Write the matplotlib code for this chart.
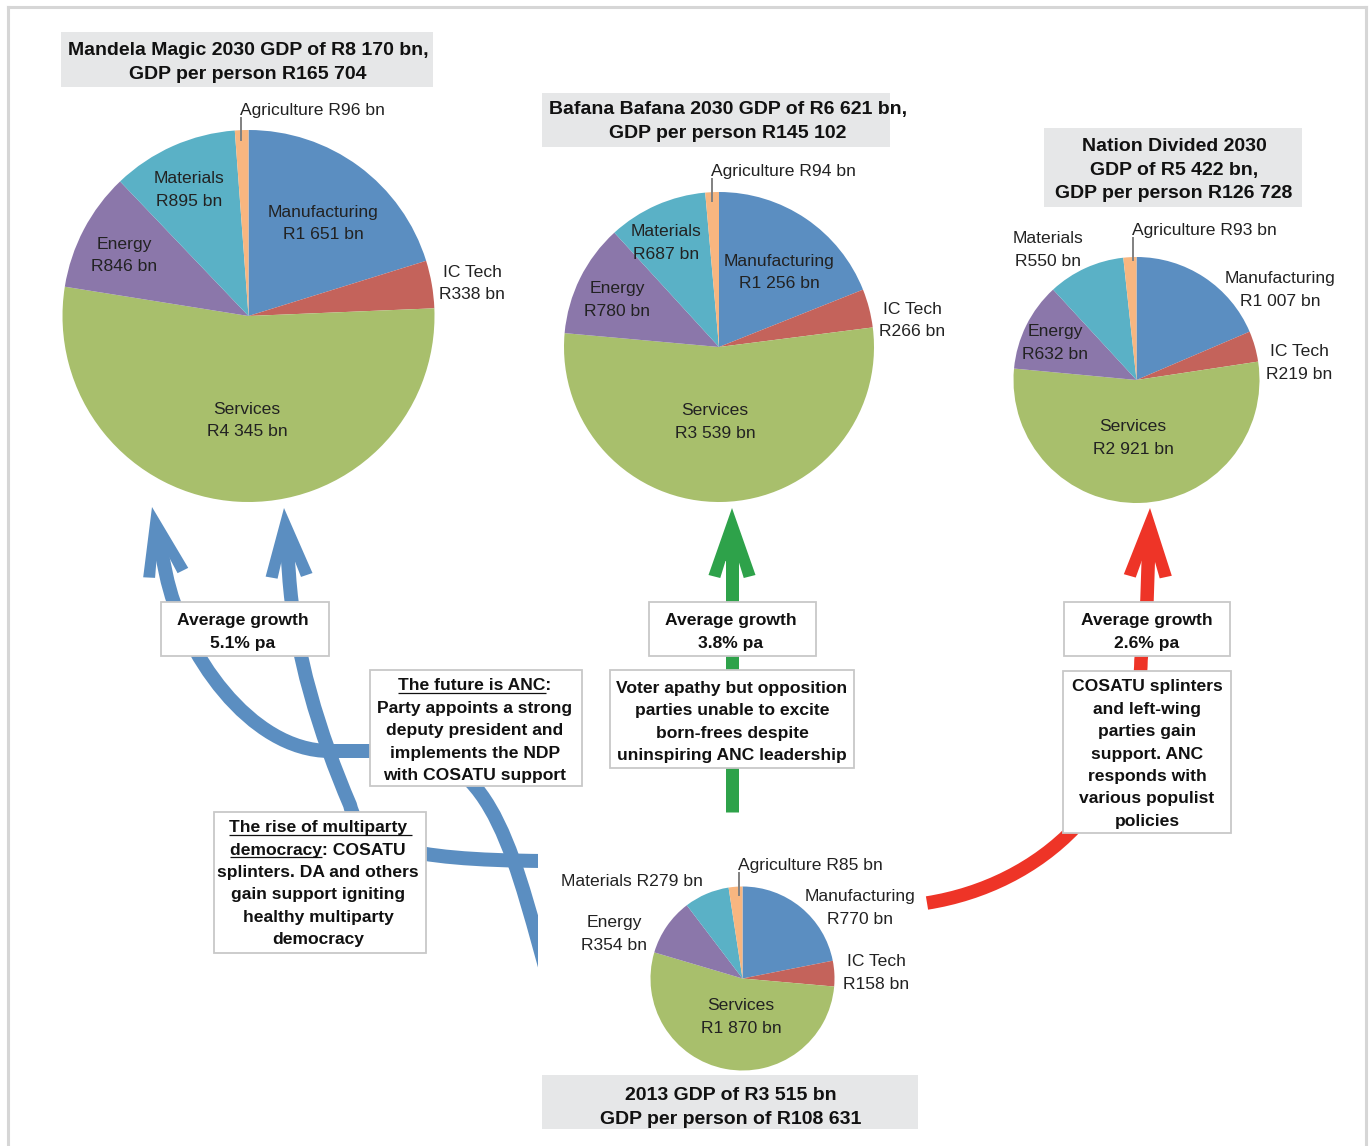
import numpy as np
import matplotlib.pyplot as plt
from matplotlib.path import Path
from matplotlib.patches import PathPatch, Polygon, Rectangle

plt.rcParams['font.family'] = ['Liberation Sans', 'DejaVu Sans']

# --- data -------------------------------------------------------------
sectors = ['Manufacturing', 'IC Tech', 'Services', 'Energy', 'Materials', 'Agriculture']
colors = ['#5b8ec1', '#c4635b', '#a8bf6c', '#8b77aa', '#5ab1c6', '#f8b680']

gdp_2013 = [770, 158, 1870, 354, 279, 85]
gdp_mandela = [1651, 338, 4345, 846, 895, 96]
gdp_bafana = [1256, 266, 3539, 780, 687, 94]
gdp_divided = [1007, 219, 2921, 632, 550, 93]

total_2013 = 3515
per_person_2013 = 108631
scenarios = ['Mandela Magic', 'Bafana Bafana', 'Nation Divided']
total_2030 = [8170, 6621, 5422]
per_person_2030 = [165704, 145102, 126728]
growth = [5.1, 3.8, 2.6]

# label positions (image pixels) for each sector, per pie
lab_mandela = [(323, 221.5), (472, 281.5), (247, 418.5), (124, 253.5), (189, 188), (240, 109)]
lab_bafana = [(779, 270.5), (912, 318.5), (715, 420), (617, 298), (666, 241), (711, 170)]
lab_divided = [(1280, 288), (1299, 361), (1133, 436), (1055, 341), (1048, 248), (1132, 229)]
lab_2013 = [(860, 906), (876, 971), (741, 1015), (614, 932), (632, 880), (738, 864)]

W, H = 1370, 1146
fig = plt.figure(figsize=(W / 100, H / 100), dpi=100)
ax = fig.add_axes([0, 0, 1, 1])

LAB = 12.6   # pt, sector labels
TXT = 12.6   # pt, bold box text
TTL = 14     # pt, bold titles


def rand(v):
    return 'R' + f'{v:,}'.replace(',', ' ')


def put_lines(x, y0, lines, size, bold=False, dy=22.5, color='#111111', ha='center'):
    out = []
    for i, s in enumerate(lines):
        t = ax.text(x, y0 + i * dy + size * 100 / 72 * 0.36, s, ha=ha, va='baseline',
                    fontsize=size, fontweight='bold' if bold else 'normal',
                    color=color, zorder=6)
        out.append(t)
    return out


def box(x0, y0, x1, y1, fc='white', ec='#c8c8c8'):
    ax.add_patch(Rectangle((x0, y0), x1 - x0, y1 - y0, facecolor=fc,
                           edgecolor=ec, linewidth=1.3, zorder=4))


def draw_pie(vals, center, radius, labpos, single=()):
    ax.pie(vals, colors=colors, startangle=-90, counterclock=True,
           center=center, radius=radius, frame=True,
           wedgeprops=dict(linewidth=0, zorder=2))
    for i, (name, v) in enumerate(zip(sectors, vals)):
        x, y = labpos[i]
        if name == 'Agriculture':
            put_lines(x, y, [f'{name} {rand(v)} bn'], LAB, color='#222222', ha='left')
            ax.plot([x + 1, x + 1], [y + 9, y + 31], color='#808080', lw=1.4, zorder=3)
        elif name in single:
            put_lines(x, y, [f'{name} {rand(v)} bn'], LAB, color='#222222')
        else:
            put_lines(x, y - 11.25, [name, f'{rand(v)} bn'], LAB, color='#222222')


def head(tip, frm, color, L=67, hw=23.5, sw=6.5):
    # swept arrow head; returns the point inside the head where the shaft should stop
    tip = np.array(tip, float)
    d = tip - np.array(frm, float)
    u = d / np.linalg.norm(d)
    n = np.array([-u[1], u[0]])
    loc = [(0, 0), (L, hw), (L + 3, 0.5 * hw), (L - 14, sw),
           (L - 14, -sw), (L + 3, -0.5 * hw), (L, -hw)]
    pts = [tip - a * u + b * n for a, b in loc]
    ax.add_patch(Polygon(pts, closed=True, facecolor=color, edgecolor='none', zorder=3))
    return tuple(tip - (L - 18) * u)


def shaft(verts, codes, lw_px, color, clip=None):
    p = PathPatch(Path(verts, codes), fill=False, edgecolor=color,
                  linewidth=lw_px * 0.72, capstyle='butt', joinstyle='round', zorder=3)
    ax.add_patch(p)
    if clip is not None:
        p.set_clip_path(clip)


# --- pies ---------------------------------------------------------------
draw_pie(gdp_mandela, (248.5, 316), 186, lab_mandela)
draw_pie(gdp_bafana, (719, 347), 155, lab_bafana)
draw_pie(gdp_divided, (1136.5, 380), 123, lab_divided)
draw_pie(gdp_2013, (742.5, 978.5), 92, lab_2013, single=('Materials',))

ax.set_xlim(0, W)
ax.set_ylim(H, 0)
ax.set_aspect('auto')
ax.axis('off')

# --- titles -------------------------------------------------------------
box(61, 32, 433, 87, fc='#e6e7e8', ec='none')
put_lines(248, 48, [f'{scenarios[0]} 2030 GDP of {rand(total_2030[0])} bn,',
                    f'GDP per person {rand(per_person_2030[0])}'], TTL, bold=True, dy=24)
box(542, 93, 890, 147, fc='#e6e7e8', ec='none')
put_lines(728, 107, [f'{scenarios[1]} 2030 GDP of {rand(total_2030[1])} bn,',
                     f'GDP per person {rand(per_person_2030[1])}'], TTL, bold=True, dy=24)
box(1044, 128, 1302, 207, fc='#e6e7e8', ec='none')
put_lines(1174, 144, [f'{scenarios[2]} 2030', f'GDP of {rand(total_2030[2])} bn,',
                      f'GDP per person {rand(per_person_2030[2])}'], TTL, bold=True, dy=23.7)
box(542, 1075, 918, 1129, fc='#e6e7e8', ec='none')
put_lines(731, 1093, [f'2013 GDP of {rand(total_2013)} bn',
                      f'GDP per person of {rand(per_person_2013)}'], TTL, bold=True, dy=23.5)

# --- arrows -------------------------------------------------------------
blue, green, red = '#5b8ec1', '#2ea24a', '#ee3427'
clip = Rectangle((0, 0), 538, H, transform=ax.transData)
C4, MV, LN = Path.CURVE4, Path.MOVETO, Path.LINETO

end_a = head((152, 507), (166, 574), blue, hw=23)
shaft([(553, 995), (515, 862), (496, 752), (400, 751), (330, 751),
       (250, 751), (182, 652), (166, 574), end_a],
      [MV, C4, C4, C4, LN, C4, C4, C4, LN], 14, blue, clip)

end_b = head((284, 508), (289, 574), blue, hw=23.5)
shaft([(545, 861), (400, 860), (360, 845), (350, 805),
       (320, 735), (294, 652), (289, 574), end_b],
      [MV, C4, C4, C4, C4, C4, C4, LN], 14, blue, clip)

end_g = head((732, 508), (732, 600), green, hw=23.5)
shaft([(732, 812), end_g], [MV, LN], 13, green)

end_r = head((1150, 508), (1147, 600), red, hw=24)
shaft([(927, 903), (1040, 885), (1138, 800), (1141, 660), (1147, 600), end_r],
      [MV, C4, C4, C4, LN, LN], 13.5, red)

# --- text boxes ---------------------------------------------------------
for (x0, x1, xc), g in zip([(161, 329, 243), (649, 816, 731), (1064, 1230, 1147)], growth):
    box(x0, 602, x1, 656)
    put_lines(xc, 619, ['Average growth', f'{g}% pa'], TXT, bold=True)

box(370, 670, 582, 786)
anc = put_lines(475, 684, ['The future is ANC:', 'Party appoints a strong',
                           'deputy president and', 'implements the NDP',
                           'with COSATU support'], TXT, bold=True)

box(610, 670, 854, 768)
put_lines(732, 686.5, ['Voter apathy but opposition', 'parties unable to excite',
                       'born-frees despite', 'uninspiring ANC leadership'], TXT, bold=True)

box(214, 812, 426, 953)
rise = put_lines(318, 826, ['The rise of multiparty', 'democracy: COSATU',
                            'splinters. DA and others', 'gain support igniting',
                            'healthy multiparty', 'democracy'], TXT, bold=True, dy=22.4)

box(1063, 671, 1231, 833)
put_lines(1147, 685, ['COSATU splinters', 'and left-wing', 'parties gain',
                      'support. ANC', 'responds with', 'various populist',
                      'policies'], TXT, bold=True, dy=22.4)

# underlines
rend = fig.canvas.get_renderer()
inv = ax.transData.inverted()


def underline(t, prefix, extra=0.0):
    bb = t.get_window_extent(rend)
    tmp = ax.text(0, 0, prefix, fontsize=t.get_fontsize(), fontweight=t.get_fontweight())
    w = tmp.get_window_extent(rend).width
    tmp.remove()
    x0 = inv.transform((bb.x0, 0))[0]
    x1 = inv.transform((bb.x0 + w, 0))[0]
    y = t.get_position()[1] + 2.5
    ax.plot([x0, x1 + extra], [y, y], color='#111111', lw=0.9,
            solid_capstyle='butt', zorder=6)


underline(anc[0], 'The future is ANC')
underline(rise[0], 'The rise of multiparty', extra=5)
underline(rise[1], 'democracy')

# frame
fc = '#d6d6d6'
ax.plot([8, 8], [H, 7], color=fc, lw=2.2, zorder=1)
ax.plot([8, 1366], [7, 7], color=fc, lw=2.2, zorder=1)
ax.plot([1366, 1366], [7, H], color=fc, lw=2.2, zorder=1)

fig.savefig('out.png', dpi=100)
